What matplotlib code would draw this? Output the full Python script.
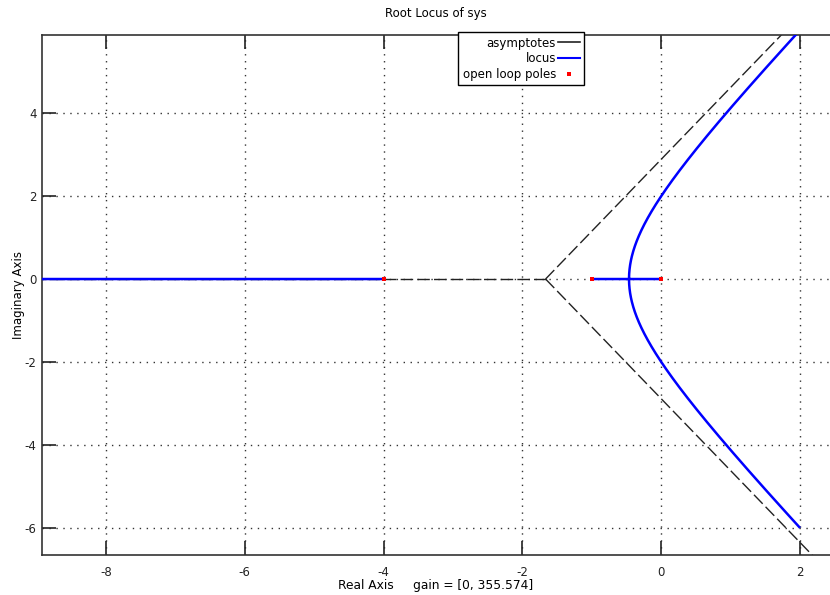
import numpy as np
import matplotlib.pyplot as plt
from matplotlib.lines import Line2D

# open-loop system: 1 / (s (s+1) (s+4))
poles = [0.0, -1.0, -4.0]
gain_min, gain_max = 0.0, 355.574

plt.rcParams['font.family'] = ['DejaVu Sans']
plt.rcParams['axes.unicode_minus'] = False

den = np.poly(poles)
gains = np.unique(np.concatenate([np.linspace(gain_min, 2, 2001),
                                  np.linspace(2, gain_max, 3000)]))

# closed-loop roots for every gain, split into three continuous branches
up, down, left = [], [], []
for k in gains:
    r = np.roots(den + np.r_[0, 0, 0, k])
    r = r[np.argsort(r.real)]
    left.append(r[0])
    rest = r[1:]
    if abs(rest[0].imag) > 1e-9:
        rest = rest[np.argsort(-rest.imag)]
    else:
        rest = rest[::-1]
    up.append(rest[0])
    down.append(rest[1])
up, down, left = np.array(up), np.array(down), np.array(left)

# asymptotes: centroid and +-60 deg, 180 deg
n = len(poles)
centroid = sum(poles) / n
angles = np.pi * (2 * np.arange(n) + 1) / n
reach = 20

fig = plt.figure(figsize=(8.3, 5.95), dpi=100)
ax = fig.add_axes([42 / 830, 1 - 555 / 595, 788 / 830, (555 - 35) / 595])

for a in angles:
    ax.plot([centroid, centroid + reach * np.cos(a)],
            [0, reach * np.sin(a)], color='#222222', lw=1,
            linestyle=(0, (9, 3)), zorder=2)

for b in (up, down, left):
    ax.plot(b.real, b.imag, color='#0000ff', lw=1.8, zorder=3)

ax.plot(poles, np.zeros(n), 's', color='red', markersize=2.2,
        markeredgewidth=0, zorder=4)

ax.set_xlim(-8.92, 2.43)
ax.set_ylim(-6.65, 5.88)
ax.set_xticks([-8, -6, -4, -2, 0, 2])
ax.set_yticks([-6, -4, -2, 0, 2, 4])
ax.grid(True, color='#333333', linestyle=(0, (1, 4)), lw=1)
ax.tick_params(direction='in', length=10, width=1.2, labelsize=8.5,
               top=True, colors='#222222')
ax.tick_params(axis='x', pad=8)
ax.tick_params(axis='y', pad=4)
ax.spines['right'].set_visible(False)
for s in ('left', 'top', 'bottom'):
    ax.spines[s].set_color('#333333')
    ax.spines[s].set_linewidth(1.2)

ax.set_title('Root Locus of sys', fontsize=8.5, pad=13)
ax.set_xlabel('Real Axis     gain = [0, 355.574]', fontsize=8.8, labelpad=0)
ax.set_ylabel('Imaginary Axis', fontsize=8.5, labelpad=0)

handles = [Line2D([], [], color='#222222', lw=1.2),
           Line2D([], [], color='#0000ff', lw=1.5),
           Line2D([], [], color='red', marker='s', markersize=2.2,
                  markeredgewidth=0, linestyle='none')]
leg = ax.legend(handles, ['asymptotes', 'locus', 'open loop poles'],
                loc='upper center', bbox_to_anchor=(0.608, 1.005),
                borderaxespad=0, markerfirst=False, fontsize=8.5,
                handlelength=1.8, handletextpad=0.2, labelspacing=0.22,
                borderpad=0.35, fancybox=False, framealpha=1,
                edgecolor='black')
leg.get_frame().set_linewidth(1)
leg.set_zorder(10)

fig.savefig('out.png', dpi=100)
